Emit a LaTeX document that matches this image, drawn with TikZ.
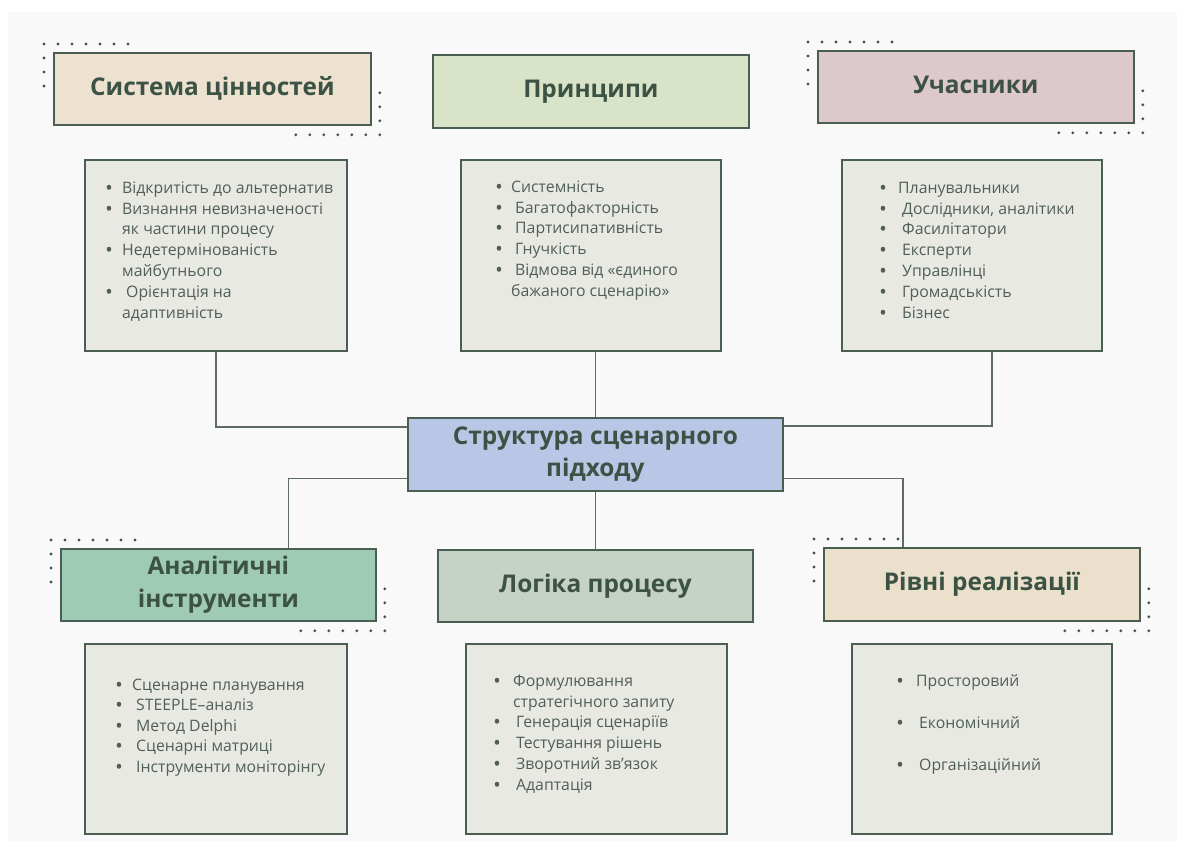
\documentclass[tikz,border=0pt]{standalone}
\usepackage{fontspec}
\setmainfont{Open Sans}
\usetikzlibrary{calc}
\definecolor{panelc}{HTML}{F9F9F9}
\definecolor{bordc}{HTML}{4B5E52}
\definecolor{titlec}{HTML}{3B5244}
\definecolor{bodyc}{HTML}{505F56}
\definecolor{boxc}{HTML}{E9E9E4}
\definecolor{hvalc}{HTML}{EDE2CF}
\definecolor{hprinc}{HTML}{D9E3C7}
\definecolor{hpartc}{HTML}{DDC8CD}
\definecolor{hcentc}{HTML}{B7C7E5}
\definecolor{htoolc}{HTML}{9FCBB6}
\definecolor{hlogc}{HTML}{C7D2C7}
\definecolor{hlevc}{HTML}{EBE0CB}
\definecolor{connc}{HTML}{5D6B62}
\definecolor{dotc}{HTML}{44544A}
\newcommand\bul[1][13]{\llap{\makebox[0pt][c]{\bfseries •}\hspace{#1pt}}}
\newcommand\fst{\rule{0pt}{13pt}}
\newcommand\cornerdots[1]{%
 \foreach \k in {0,...,6}{
   \fill[dotc] ($(#1.north west)+({-9+14*\k},-8)$) circle (1.6pt);
   \fill[dotc] ($(#1.south east)+({8-14*\k},9)$) circle (1.6pt);}
 \foreach \k in {0,1,2}{
   \fill[dotc] ($(#1.north west)+(-9,{6+14*\k})$) circle (1.6pt);
   \fill[dotc] ($(#1.south east)+(8,{-33+14*\k})$) circle (1.6pt);}}
\begin{document}
\begin{tikzpicture}[x=1pt,y=-1pt,
  head/.style={draw=bordc,line width=1.8pt,inner sep=0pt,anchor=north west,text=titlec,
    font=\fontsize{24.4}{32}\selectfont\bfseries,align=center},
  cbox/.style={draw=bordc,line width=1.8pt,fill=boxc,inner sep=0pt,anchor=north west},
  items/.style={anchor=north west,inner sep=0pt,text=bodyc,
    font=\fontsize{15.8}{20.8}\selectfont,align=left},
  conn/.style={draw=connc,line width=1.2pt}]
\useasboundingbox (0,0) rectangle (1181,845);
\fill[white] (0,0) rectangle (1181,845);
\fill[panelc] (8,12) rectangle (1177,841);

% header boxes
\node[head,fill=hvalc,minimum width=317pt,minimum height=72pt] (h1) at (53,52) {\raisebox{5pt}{Система цінностей}};
\node[head,fill=hprinc,minimum width=316pt,minimum height=73pt] (h2) at (432,54) {\raisebox{5pt}{Принципи}};
\node[head,fill=hpartc,minimum width=316pt,minimum height=72pt] (h3) at (817,50) {\raisebox{5pt}{Учасники}};
\node[head,fill=hcentc,minimum width=375pt,minimum height=73pt] (cen) at (407,417) {Структура сценарного\\підходу};
\node[head,fill=htoolc,minimum width=315pt,minimum height=72pt] (h4) at (60,548) {\raisebox{1pt}{Аналітичні}\\інструменти};
\node[head,fill=hlogc,minimum width=315pt,minimum height=72pt] (h5) at (437,549) {\raisebox{5pt}{Логіка процесу}};
\node[head,fill=hlevc,minimum width=316pt,minimum height=73pt] (h6) at (823,547) {\raisebox{5pt}{Рівні реалізації}};

% content boxes
\node[cbox,minimum width=262pt,minimum height=191pt] (c1) at (84,159) {};
\node[cbox,minimum width=260pt,minimum height=191pt] (c2) at (460,159) {};
\node[cbox,minimum width=260pt,minimum height=191pt] (c3) at (841,159) {};
\node[cbox,minimum width=262pt,minimum height=190pt] (c4) at (84,643) {};
\node[cbox,minimum width=261pt,minimum height=190pt] (c5) at (465,643) {};
\node[cbox,minimum width=260pt,minimum height=190pt] (c6) at (851,643) {};

% dots
\cornerdots{h1}
\cornerdots{h3}
\cornerdots{h4}
\cornerdots{h6}

% item lists
\node[items] (i1) at (122,180) {\fst\bul Відкритість до альтернатив\\
\bul Визнання невизначеності\\
як частини процесу\\
\bul Недетермінованість\\
майбутнього\\
\bul\hspace*{4pt}Орієнтація на\\
адаптивність};
\node[items] (i2) at (511,179) {\fst\bul[12]Системність\\
\bul[12]\hspace*{4pt}Багатофакторність\\
\bul[12]\hspace*{4pt}Партисипативність\\
\bul[12]\hspace*{4pt}Гнучкість\\
\bul[12]\hspace*{4pt}Відмова від «єдиного\\
бажаного сценарію»};
\node[items] (i3) at (898,180) {\fst\bul[15]Планувальники\\
\bul[15]\hspace*{4pt}Дослідники, аналітики\\
\bul[15]\hspace*{4pt}Фасилітатори\\
\bul[15]\hspace*{4pt}Експерти\\
\bul[15]\hspace*{4pt}Управлінці\\
\bul[15]\hspace*{4pt}Громадськість\\
\bul[15]\hspace*{4pt}Бізнес};
\node[items,font=\fontsize{15.8}{20.5}\selectfont] (i4) at (132,677) {\fst\bul Сценарне планування\\
\bul\hspace*{4pt}STEEPLE–аналіз\\
\bul\hspace*{4pt}Метод Delphi\\
\bul\hspace*{4pt}Сценарні матриці\\
\bul\hspace*{4pt}Інструменти моніторінгу};
\node[items] (i5) at (513,673) {\fst\bul[16]Формулювання\\
стратегічного запиту\\
\bul[16]\hspace*{3pt}Генерація сценаріїв\\
\bul[16]\hspace*{3pt}Тестування рішень\\
\bul[16]\hspace*{3pt}Зворотний зв'язок\\
\bul[16]\hspace*{3pt}Адаптація};
\node[items,font=\fontsize{15.8}{42}\selectfont] (i6) at (916,673) {\fst\bul[16]Просторовий\\
\bul[16]\hspace*{3pt}Економічний\\
\bul[16]\hspace*{3pt}Організаційний};

% connectors
\draw[conn] (c1.south) |- ([yshift=-10pt]cen.north west);
\draw[conn] (cen.north) -- (cen.north |- c2.south);
\draw[conn] ([yshift=-9pt]cen.north east) -| ([xshift=20pt]c3.south);
\draw[conn] ([yshift=13pt]cen.south west) -| ([xshift=70pt]h4.north);
\draw[conn] (cen.south) -- (cen.south |- h5.north);
\draw[conn] ([yshift=13pt]cen.south east) -| ([xshift=-79pt]h6.north);
\end{tikzpicture}
\end{document}
